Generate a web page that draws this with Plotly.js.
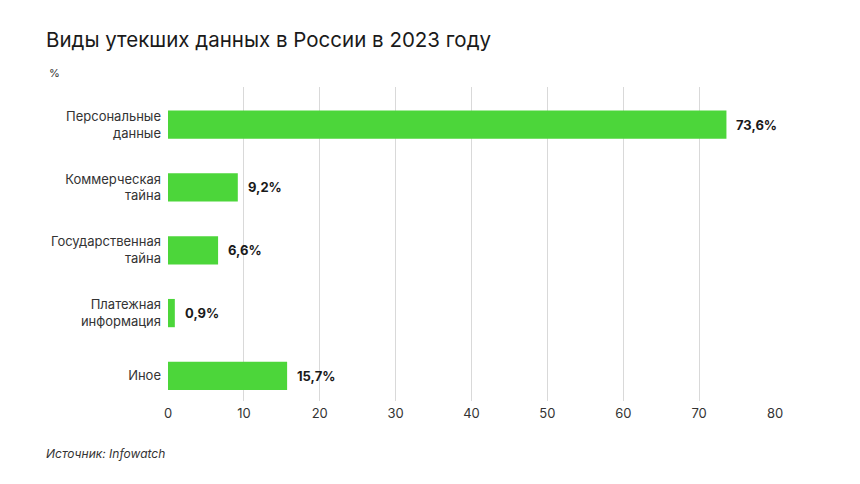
<!DOCTYPE html>
<html>
<head>
<meta charset="utf-8">
<script src="https://cdn.plot.ly/plotly-3.0.1.min.js"></script>
<style>html,body{margin:0;padding:0;background:#fff;}#chart{width:860px;height:484px;}</style>
</head>
<body>
<div id="chart"></div>
<script>
const categories = ["Персональные<br>данные", "Коммерческая<br>тайна", "Государственная<br>тайна", "Платежная<br>информация", "Иное"];
const values = [73.6, 9.2, 6.6, 0.9, 15.7];
const xTicks = [0, 10, 20, 30, 40, 50, 60, 70, 80];

const labels = values.map(v => "<b>" + v.toFixed(1).replace('.', ',') + "%</b>");
const FONT = "Inter, 'Noto Sans', sans-serif";

const trace = {
  type: 'bar',
  orientation: 'h',
  y: categories,
  x: values,
  cliponaxis: false,
  marker: {color: '#4cd63a', line: {width: 0}},
  hoverinfo: 'none'
};

const valueAnnotations = values.map((v, i) => ({
  x: v, y: categories[i], xref: 'x', yref: 'y', text: labels[i],
  xanchor: 'left', yanchor: 'middle', xshift: 8, showarrow: false,
  font: {family: FONT, size: 13, color: '#1a1a1a'}
}));

const layout = {
  width: 860, height: 484,
  margin: {l: 168, r: 85, t: 87, b: 83},
  paper_bgcolor: '#fff', plot_bgcolor: '#fff',
  showlegend: false,
  bargap: 0.55,
  xaxis: {
    range: [0, 80], tickvals: xTicks, ticktext: xTicks.map(String),
    showgrid: true, gridcolor: '#d9d9d9', gridwidth: 1,
    zeroline: false, showline: false, ticks: '',
    ticklabelstandoff: 3,
    tickfont: {family: FONT, size: 13, color: '#333'},
    fixedrange: true
  },
  yaxis: {
    type: 'category', range: [4.4, -0.6],
    showgrid: false, zeroline: false, showline: false, ticks: '',
    ticklabelstandoff: 6,
    tickfont: {family: FONT, size: 13, color: '#333'},
    fixedrange: true
  },
  annotations: valueAnnotations.concat([
    {text: 'Виды утекших данных в России в 2023 году', xref: 'paper', yref: 'paper',
     x: -0.204, y: 1.0, xanchor: 'left', yanchor: 'middle', showarrow: false,
     yshift: 48, font: {family: FONT, size: 20.5, color: '#1a1a1a'}},
    {text: '%', xref: 'paper', yref: 'paper', x: -0.199, y: 1.0, xanchor: 'left', yanchor: 'middle',
     showarrow: false, yshift: 14, font: {family: FONT, size: 11, color: '#333'}},
    {text: '<i>Источник: Infowatch</i>', xref: 'paper', yref: 'paper', x: -0.204, y: 0, xanchor: 'left',
     yanchor: 'middle', showarrow: false, yshift: -52, font: {family: FONT, size: 12, color: '#333'}}
  ])
};

Plotly.newPlot('chart', [trace], layout, {displayModeBar: false, staticPlot: true});
</script>
</body>
</html>
